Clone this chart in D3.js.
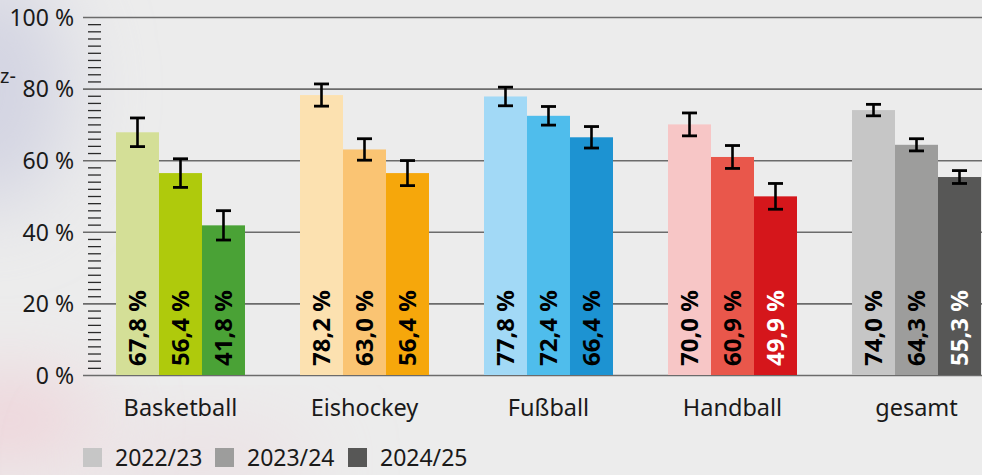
<!DOCTYPE html>
<html>
<head>
<meta charset="utf-8">
<script src="https://cdn.jsdelivr.net/npm/d3@7"></script>
<style>
  html, body { margin: 0; padding: 0; background: #ececec; }
  svg { display: block; font-family: "Noto Sans", "Open Sans", sans-serif; }
</style>
</head>
<body>
<svg id="chart" width="982" height="475"></svg>
<script>
// ---- data ----
const categories = ["Basketball", "Eishockey", "Fußball", "Handball", "gesamt"];
const seasons = ["2022/23", "2023/24", "2024/25"];
const values2022 = [67.8, 78.2, 77.8, 70.0, 74.0];
const values2023 = [56.4, 63.0, 72.4, 60.9, 64.3];
const values2024 = [41.8, 56.4, 66.4, 49.9, 55.3];
const err2022 = [4.0, 3.1, 2.6, 3.2, 1.6];
const err2023 = [4.0, 3.0, 2.6, 3.2, 1.7];
const err2024 = [4.1, 3.5, 3.0, 3.6, 1.8];
const yTicks = [0, 20, 40, 60, 80, 100];

// ---- styles ----
const barColors = [
  ["#d4df97", "#afca0c", "#4aa236"],
  ["#fce1b0", "#fac473", "#f6a70b"],
  ["#a2d9f6", "#4fbdec", "#1d93d2"],
  ["#f7c6c6", "#e9574b", "#d5161b"],
  ["#c6c6c6", "#9d9d9c", "#575756"]
];
const labelColors = [
  ["#000", "#000", "#000"],
  ["#000", "#000", "#000"],
  ["#000", "#000", "#000"],
  ["#000", "#000", "#fff"],
  ["#000", "#000", "#fff"]
];
const legendColors = ["#c6c6c6", "#9d9d9c", "#575756"];

const valuesBySeason = [values2022, values2023, values2024];
const errBySeason = [err2022, err2023, err2024];
const fmt = v => v.toFixed(1).replace(".", ",") + " %";

const svg = d3.select("#chart");
const W = 982, H = 475;

// background with faint blurred tints at left
const defs = svg.append("defs");
defs.append("filter").attr("id", "blur").attr("x", "-100%").attr("y", "-100%").attr("width", "300%").attr("height", "300%")
  .append("feGaussianBlur").attr("stdDeviation", 40);
svg.append("rect").attr("width", W).attr("height", H).attr("fill", "#ececec");
svg.append("ellipse").attr("cx", -10).attr("cy", 90).attr("rx", 80).attr("ry", 120)
  .attr("fill", "#d3d4e2").attr("filter", "url(#blur)");
svg.append("ellipse").attr("cx", 10).attr("cy", 420).attr("rx", 90).attr("ry", 40)
  .attr("fill", "#efd0d7").attr("filter", "url(#blur)");
svg.append("ellipse").attr("cx", 200).attr("cy", 460).attr("rx", 120).attr("ry", 25)
  .attr("fill", "#ecdbe0").attr("filter", "url(#blur)");

// scales
const y = d3.scaleLinear().domain([0, 100]).range([375, 17]);
const x0 = d3.scaleBand().domain(categories).range([116, 981]).paddingInner(0.299).paddingOuter(0);
const x1 = d3.scaleBand().domain(seasons).range([0, x0.bandwidth()]).padding(0);

// cut-off text at the left
svg.append("text").attr("x", 0).attr("y", 83).attr("font-size", 20).attr("fill", "#1a1a1a").text("z-");

// gridlines + tick labels via axis
const gridAxis = d3.axisLeft(y).tickValues(yTicks).tickSize(-(W - 83)).tickFormat(d => d + " %");
const g = svg.append("g").attr("transform", "translate(83,0)").call(gridAxis);
g.select(".domain").remove();
g.selectAll(".tick line").attr("stroke", "#6b6b6b").attr("stroke-width", 1.6);
g.selectAll(".tick text").attr("x", -9).attr("dy", "0.36em").attr("font-size", 23)
  .attr("fill", "#1a1a1a").attr("font-family", "Noto Sans");

// minor ticks every 2 %
const minor = d3.range(2, 100, 2).filter(v => v % 20 !== 0);
const minorAxis = d3.axisRight(y).tickValues(minor).tickSize(13).tickFormat("");
const gm = svg.append("g").attr("transform", "translate(88,0)").call(minorAxis);
gm.select(".domain").remove();
gm.selectAll(".tick line").attr("stroke", "#2a2a2a").attr("stroke-width", 1.3);

// bars
const groups = svg.append("g").selectAll("g.cat").data(categories).join("g")
  .attr("class", "cat").attr("transform", d => `translate(${x0(d)},0)`);

groups.each(function(cat, ci) {
  const gg = d3.select(this);
  const rows = seasons.map((s, si) => ({
    s, si, v: valuesBySeason[si][ci], e: errBySeason[si][ci],
    color: barColors[ci][si], lc: labelColors[ci][si]
  }));
  gg.selectAll("rect").data(rows).join("rect")
    .attr("x", d => x1(d.s)).attr("width", x1.bandwidth())
    .attr("y", d => y(d.v)).attr("height", d => y(0) - y(d.v))
    .attr("fill", d => d.color);

  // error bars
  const eb = gg.selectAll("g.err").data(rows).join("g").attr("class", "err")
    .attr("transform", d => `translate(${x1(d.s) + x1.bandwidth() / 2},0)`);
  eb.append("line").attr("x1", 0).attr("x2", 0)
    .attr("y1", d => y(d.v + d.e)).attr("y2", d => y(d.v - d.e))
    .attr("stroke", "#000").attr("stroke-width", 2.6);
  eb.append("line").attr("x1", -7.5).attr("x2", 7.5)
    .attr("y1", d => y(d.v + d.e)).attr("y2", d => y(d.v + d.e))
    .attr("stroke", "#000").attr("stroke-width", 2.8);
  eb.append("line").attr("x1", -7.5).attr("x2", 7.5)
    .attr("y1", d => y(d.v - d.e)).attr("y2", d => y(d.v - d.e))
    .attr("stroke", "#000").attr("stroke-width", 2.8);

  // value labels
  gg.selectAll("text.val").data(rows).join("text").attr("class", "val")
    .attr("transform", d => `translate(${x1(d.s) + x1.bandwidth() / 2},${y(0) - 9}) rotate(-90)`)
    .attr("dy", "0.36em").attr("font-size", 24).attr("font-weight", "bold")
    .attr("fill", d => d.lc).text(d => fmt(d.v));
});

// category labels
svg.append("g").selectAll("text").data(categories).join("text")
  .attr("x", d => x0(d) + x0.bandwidth() / 2).attr("y", 416)
  .attr("text-anchor", "middle").attr("font-size", 23.5).attr("fill", "#1a1a1a").text(d => d);

// legend
const legendX = [83, 215, 348];
const lg = svg.append("g").selectAll("g").data(seasons).join("g")
  .attr("transform", (d, i) => `translate(${legendX[i]},448)`);
lg.append("rect").attr("width", 19).attr("height", 19).attr("fill", (d, i) => legendColors[i]);
lg.append("text").attr("x", 32).attr("y", 18).attr("font-size", 23).attr("fill", "#1a1a1a").text(d => d);
</script>
</body>
</html>
